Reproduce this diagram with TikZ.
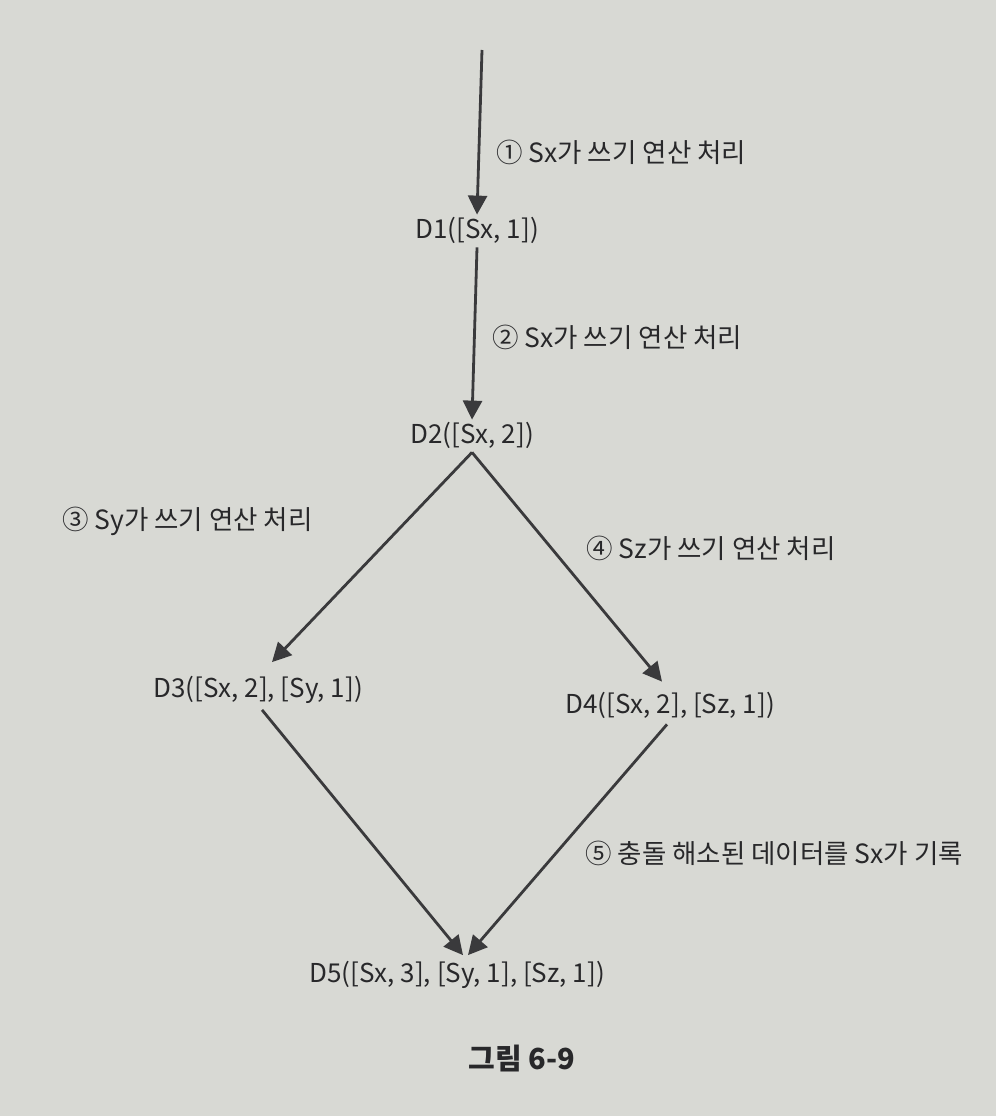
\documentclass[tikz,border=0pt]{standalone}
\usepackage{fontspec}
\setmainfont{Noto Sans CJK KR}
\usetikzlibrary{arrows.meta}
\definecolor{paper}{RGB}{216,217,212}
\definecolor{ink}{RGB}{40,40,42}
\definecolor{arrowink}{RGB}{58,58,60}
\begin{document}
\begin{tikzpicture}[x=1pt,y=-1pt,
  state/.style={inner sep=0pt, text=ink, font=\fontsize{26}{30}\selectfont},
  lbl/.style={inner sep=0pt, text=ink, anchor=west, font=\fontsize{26.5}{30}\selectfont},
  flow/.style={draw=arrowink, line width=2.8pt, -{Triangle[length=19pt,width=19pt]}}]
\fill[paper] (0,0) rectangle (996,1116);
\useasboundingbox (0,0) rectangle (996,1116);
\coordinate (top) at (482,50);
\node[state] (d1) at (477,230) {D1([Sx, 1])};
\node[state] (d2) at (472,435) {D2([Sx, 2])};
\node[state] (d3) at (258,690) {D3([Sx, 2], [Sy, 1])};
\node[state] (d4) at (670,705) {D4([Sx, 2], [Sz, 1])};
\node[state] (d5) at (457,975) {D5([Sx, 3], [Sy, 1], [Sz, 1])};
\node[lbl] (l1) at (496,152) {① Sx가 쓰기 연산 처리};
\node[lbl] (l2) at (492,337) {② Sx가 쓰기 연산 처리};
\node[lbl] (l3) at (62,521) {③ Sy가 쓰기 연산 처리};
\node[lbl] (l4) at (586,548) {④ Sz가 쓰기 연산 처리};
\node[lbl] (l5) at (585,853) {⑤ 충돌 해소된 데이터를 Sx가 기록};
\node[inner sep=0pt, text=ink, font=\fontsize{29}{32}\selectfont\bfseries] (cap) at (522,1058) {그림 6-9};
\draw[flow] (top) -- ([yshift=2pt]d1.north);
\draw[flow] ([yshift=-4pt]d1.south) -- ([yshift=2pt]d2.north);
\draw[flow] ([yshift=-4pt]d2.south) -- ([xshift=14pt,yshift=14pt]d3.north);
\draw[flow] ([yshift=-4pt]d2.south) -- ([xshift=-8pt,yshift=10pt]d4.north);
\draw[flow] ([xshift=4pt,yshift=-6pt]d3.south) -- ([xshift=6pt,yshift=6pt]d5.north);
\draw[flow] ([xshift=-3pt,yshift=-6pt]d4.south) -- ([xshift=11pt,yshift=6pt]d5.north);
\end{tikzpicture}
\end{document}
